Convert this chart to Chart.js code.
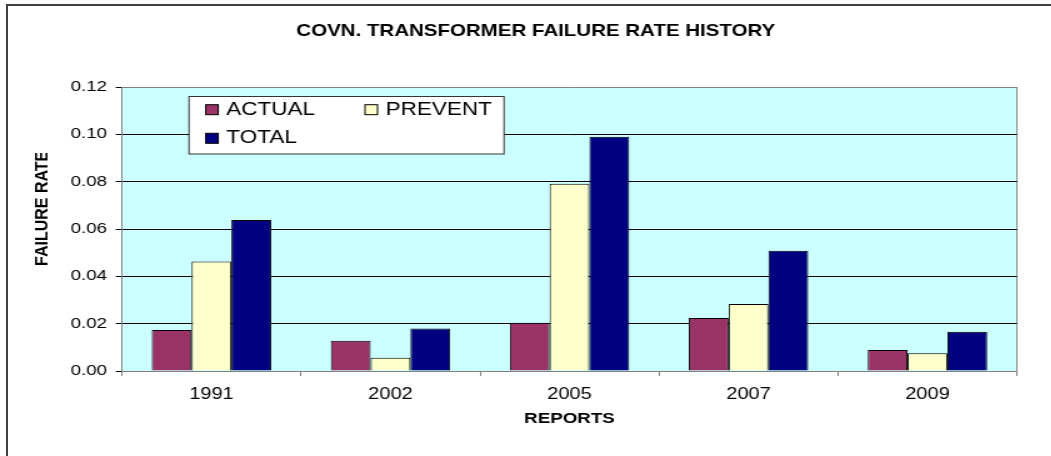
<!DOCTYPE html>
<html>
<head>
<meta charset="utf-8">
<script src="https://cdn.jsdelivr.net/npm/chart.js@4"></script>
<style>
  body { margin: 0; background: #fff; overflow: hidden; width: 1051px; height: 456px; position: relative; }
  #marco { position: absolute; left: 6px; top: 4px; width: 1200px; height: 600px; border-left: 2px solid #404040; border-top: 2px solid #404040; }
  #contenedor { position: absolute; left: 0; top: 0; width: 857px; height: 456px; transform: scaleX(1.25); transform-origin: 0 0; }
</style>
</head>
<body>
<div id="marco"></div>
<div id="contenedor"><canvas id="grafico"></canvas></div>
<script>
const reports = ['1991', '2002', '2005', '2007', '2009'];
const actual = [0.0173, 0.0128, 0.0204, 0.0224, 0.0089];
const prevent = [0.0463, 0.0056, 0.0791, 0.0283, 0.0075];
const total = [0.0638, 0.0180, 0.0990, 0.0508, 0.0166];
const yTickLabels = ['0.00', '0.02', '0.04', '0.06', '0.08', '0.10', '0.12'];

const titulo = 'COVN. TRANSFORMER FAILURE RATE HISTORY';
const fuente = '"Liberation Sans", Arial, sans-serif';

const fondoPlot = {
  id: 'fondoPlot',
  beforeDraw(chart) {
    const { ctx, chartArea: a } = chart;
    ctx.save();
    ctx.fillStyle = '#CCFFFF';
    ctx.fillRect(a.left, a.top, a.right - a.left, a.bottom - a.top);
    ctx.strokeStyle = '#808080';
    ctx.lineWidth = 1;
    ctx.beginPath();
    ctx.moveTo(a.right, a.top);
    ctx.lineTo(a.right, a.bottom);
    ctx.stroke();
    ctx.restore();
  }
};

// titulo principal, centrado en el marco y no en el area del grafico
const tituloPrincipal = {
  id: 'tituloPrincipal',
  afterDraw(chart) {
    const ctx = chart.ctx;
    ctx.save();
    ctx.font = 'bold 16.4px ' + fuente;
    ctx.fillStyle = '#000';
    ctx.textAlign = 'center';
    ctx.textBaseline = 'alphabetic';
    ctx.fillText(titulo, 428.6, 35.7);
    ctx.restore();
  }
};

// leyenda dentro del area del grafico, 2 columnas
const leyenda = {
  id: 'leyenda',
  afterDraw(chart) {
    const ctx = chart.ctx;
    ctx.save();
    ctx.fillStyle = '#fff';
    ctx.fillRect(151.2, 96, 252, 58);
    ctx.strokeStyle = '#333';
    ctx.lineWidth = 1;
    ctx.strokeRect(151.2, 96.5, 252, 57.5);
    const colX = [164.6, 292];
    const filaY = [104.7, 133.3];
    ctx.font = '18px ' + fuente;
    ctx.textBaseline = 'alphabetic';
    chart.data.datasets.forEach((ds, i) => {
      const x = colX[i % 2];
      const y = filaY[Math.floor(i / 2)];
      ctx.fillStyle = ds.backgroundColor;
      ctx.fillRect(x, y, 10, 10);
      ctx.strokeStyle = '#000';
      ctx.strokeRect(x, y, 10, 10);
      ctx.fillStyle = '#000';
      ctx.fillText(ds.label, x + 16.5, y + 10);
    });
    ctx.restore();
  }
};

// titulo del eje Y, recortado como en el original
const tituloY = {
  id: 'tituloY',
  afterDraw(chart) {
    const ctx = chart.ctx;
    ctx.save();
    ctx.beginPath();
    ctx.rect(0, 153, 90, 300);
    ctx.clip();
    ctx.translate(38.4, 266);
    ctx.rotate(-Math.PI / 2);
    ctx.scale(1, 0.9);
    ctx.font = 'bold 16px ' + fuente;
    ctx.fillStyle = '#000';
    ctx.textAlign = 'left';
    ctx.textBaseline = 'alphabetic';
    ctx.fillText('FAILURE RATE', 0, 0);
    ctx.restore();
  }
};

Chart.defaults.font.family = fuente;
Chart.defaults.color = '#000';

new Chart(document.getElementById('grafico'), {
  type: 'bar',
  data: {
    labels: reports,
    datasets: [
      { label: 'ACTUAL', data: actual, backgroundColor: '#993366', borderColor: '#000', borderWidth: 1 },
      { label: 'PREVENT', data: prevent, backgroundColor: '#FFFFCC', borderColor: '#000', borderWidth: 1 },
      { label: 'TOTAL', data: total, backgroundColor: '#000080', borderColor: '#000', borderWidth: 1 }
    ]
  },
  options: {
    responsive: true,
    maintainAspectRatio: false,
    animation: false,
    barPercentage: 1,
    categoryPercentage: 0.667,
    layout: { padding: { left: 0, right: 43.4, top: 87, bottom: 0 } },
    plugins: {
      legend: { display: false },
      tooltip: { enabled: false },
      title: { display: false }
    },
    scales: {
      x: {
        grid: { drawOnChartArea: false, drawTicks: true, tickLength: 5, color: '#808080' },
        border: { color: '#808080' },
        ticks: { color: '#000', font: { size: 16 }, padding: 9, maxRotation: 0 },
        title: { display: true, text: 'REPORTS', color: '#000', font: { size: 15, weight: 'bold' }, padding: { top: 0, bottom: 28 } },
        afterFit(s) { s.height = 85; }
      },
      y: {
        min: 0,
        max: 0.12,
        ticks: { stepSize: 0.02, padding: 7, font: { size: 15 }, callback: (v, i) => yTickLabels[i] },
        grid: {
          color: c => (c.index === 6 || c.index === 0) ? '#808080' : '#000',
          tickColor: '#000',
          tickLength: 5
        },
        border: { color: '#808080' },
        afterFit(s) { s.width = 97.6; }
      }
    }
  },
  plugins: [fondoPlot, tituloPrincipal, leyenda, tituloY]
});
</script>
</body>
</html>
